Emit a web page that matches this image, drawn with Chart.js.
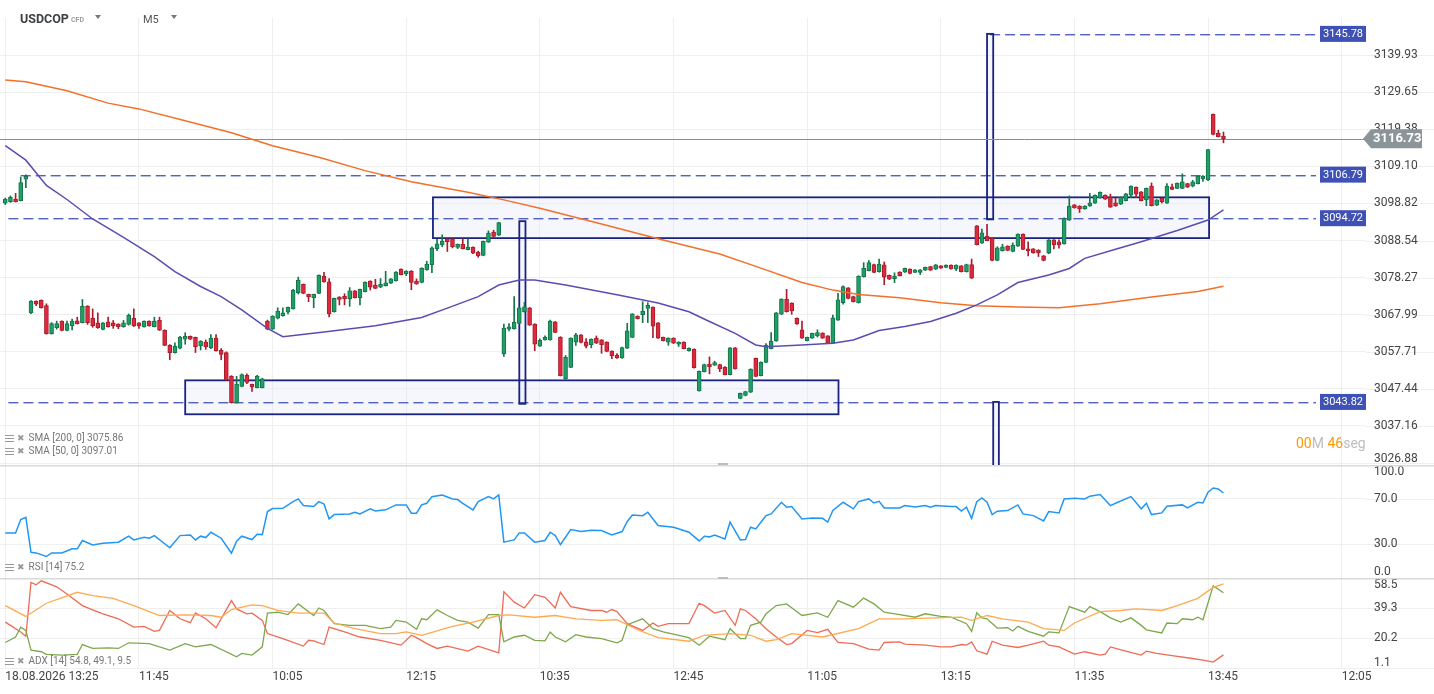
<!DOCTYPE html>
<html>
<head>
<meta charset="utf-8">
<title>USDCOP M5</title>
<script src="https://cdn.jsdelivr.net/npm/chart.js@4.4.1/dist/chart.umd.min.js"></script>
<style>
    body { margin: 0; background: #fff; font-family: Roboto, "Noto Sans", sans-serif; }
    .wrap { position: relative; width: 1434px; height: 694px; overflow: hidden; }
    canvas { position: absolute; left: 0; }
    .txt { position: absolute; white-space: nowrap; z-index: 2; }
    .tri { position: absolute; width: 0; height: 0; border-left: 3.5px solid transparent;
           border-right: 3.5px solid transparent; border-top: 4px solid #777; z-index: 2; }
    .leg { position: absolute; left: 5px; font-size: 10px; color: #777; z-index: 2; white-space: nowrap; }
    .leg .ico { display: inline-block; width: 9px; height: 7px; margin-right: 3px; vertical-align: -1px;
                background: repeating-linear-gradient(#9a9a9a 0 1.5px, #fff 1.5px 3px); }
    .leg .x { color: #9a9a9a; font-family: "DejaVu Sans", sans-serif; font-size: 9px; margin-right: 4px; }
    .handle { position: absolute; left: 718px; width: 10px; height: 2px; background: #bdbdbd; z-index: 2; }
</style>
</head>
<body>
<div class="wrap">
    <canvas id="priceChart" width="1434" height="465" style="top:0"></canvas>
    <canvas id="rsiChart" width="1434" height="113" style="top:465px"></canvas>
    <canvas id="adxChart" width="1434" height="116" style="top:578px"></canvas>

    <div class="txt" style="left:20px;top:11px;font-size:12.5px;font-weight:bold;color:#3c4043">USDCOP</div>
    <div class="txt" style="left:71px;top:16px;font-size:7px;font-weight:bold;color:#9e9e9e">CFD</div>
    <div class="tri" style="left:95px;top:15px"></div>
    <div class="txt" style="left:143px;top:13px;font-size:11px;color:#555">M5</div>
    <div class="tri" style="left:171px;top:15px"></div>

    <div class="txt" style="left:1296px;top:435px;font-size:14px">
        <span style="color:#ff9800">00</span><span style="color:#bdbdbd">M</span>
        <span style="color:#ff9800">46</span><span style="color:#bdbdbd">seg</span>
    </div>

    <div class="leg" style="top:432px"><span class="ico"></span><span class="x">✖</span>SMA [200, 0] 3075.86</div>
    <div class="leg" style="top:445px"><span class="ico"></span><span class="x">✖</span>SMA [50, 0] 3097.01</div>
    <div class="leg" style="top:561px"><span class="ico"></span><span class="x">✖</span>RSI [14] 75.2</div>
    <div class="leg" style="top:655px"><span class="ico"></span><span class="x">✖</span>ADX [14] 54.8, 49.1, 9.5</div>

    <div class="handle" style="top:463px"></div>
    <div class="handle" style="top:577px"></div>
</div>

<script>
// ---- time axis ----
const timeLabels = ['18.08.2026 13:25', '11:45', '10:05', '12:15', '10:35', '12:45',
                    '11:05', '13:15', '11:35', '13:45', '12:05'];
const tickIdx = [0, 26, 52, 78, 104, 130, 156, 182, 208, 234, 260];

// ---- candles (5 min) ----
const opens = [
 3098.9,3099.3,3100.0,3099.6,3105.5,3068.5,3071.7,3072.0,3070.5,3062.7,
 3064.4,3066.2,3063.6,3064.9,3066.3,3065.8,3070.4,3067.0,3065.7,3063.9,
 3066.0,3065.7,3065.4,3064.7,3065.3,3067.0,3065.7,3064.6,3066.2,3064.7,
 3066.4,3063.7,3059.5,3057.5,3058.7,3061.2,3062.0,3061.7,3059.4,3060.4,
 3058.8,3061.5,3058.1,3057.5,3051.0,3043.6,3048.1,3051.2,3048.7,3047.8,
 3047.8,3066.2,3064.0,3067.0,3067.7,3068.7,3069.6,3074.1,3076.4,3073.6,
 3072.7,3073.9,3078.7,3077.1,3068.8,3072.9,3073.1,3072.4,3074.6,3072.7,
 3074.4,3077.3,3076.2,3075.6,3076.0,3076.7,3077.4,3080.6,3079.3,3080.1,
 3077.3,3076.9,3080.4,3081.8,3086.3,3087.3,3089.0,3089.0,3086.6,3087.5,
 3086.0,3086.7,3085.3,3084.4,3088.1,3090.9,3090.0,3057.1,3064.0,3064.1,
 3065.6,3068.8,3069.9,3065.4,3059.3,3061.0,3061.0,3066.0,3061.8,3050.2,
 3053.4,3060.4,3062.4,3060.5,3059.7,3061.5,3061.0,3060.4,3057.9,3056.7,
 3056.0,3058.7,3061.7,3067.6,3068.0,3069.7,3070.1,3065.7,3061.7,3060.4,
 3061.5,3059.8,3060.4,3058.0,3058.4,3046.9,3052.2,3054.3,3054.0,3054.2,
 3053.5,3051.4,3058.8,3044.8,3045.6,3046.5,3055.9,3051.1,3054.8,3058.6,
 3060.7,3068.1,3072.3,3071.2,3067.0,3063.8,3060.8,3061.5,3062.1,3062.9,
 3062.1,3060.1,3066.5,3071.3,3075.4,3073.0,3071.3,3078.5,3080.2,3081.9,
 3079.9,3081.8,3078.9,3078.0,3079.8,3079.8,3080.6,3079.7,3079.7,3080.3,
 3081.3,3080.6,3081.5,3081.1,3081.7,3080.6,3081.5,3079.9,3081.9,3092.6,
 3087.8,3089.7,3089.2,3083.0,3085.7,3087.0,3085.5,3087.0,3090.3,3086.2,
 3086.2,3085.9,3084.3,3085.0,3088.7,3088.2,3087.6,3094.2,3098.4,3098.1,
 3097.3,3098.1,3098.9,3100.4,3101.1,3100.6,3099.0,3098.6,3099.6,3101.1,
 3103.3,3102.0,3099.8,3103.6,3098.3,3100.3,3098.9,3103.4,3103.0,3103.0,
 3104.3,3103.6,3104.3,3105.7,3105.4,3123.5,3118.3,3117.5
];
const highs = [
 3100.3,3100.9,3101.6,3106.1,3106.7,3071.9,3071.8,3072.1,3071.0,3065.8,
 3066.2,3066.3,3066.2,3066.8,3067.3,3072.2,3070.5,3069.6,3068.5,3065.8,
 3067.3,3066.4,3065.5,3066.4,3068.2,3069.6,3065.8,3066.3,3066.3,3067.3,
 3067.3,3063.8,3059.7,3060.2,3062.0,3063.0,3062.1,3061.8,3060.8,3061.0,
 3062.5,3062.5,3058.6,3057.7,3051.1,3050.9,3051.6,3051.6,3048.8,3051.2,
 3050.4,3066.5,3067.7,3069.9,3069.9,3070.1,3075.0,3078.4,3076.5,3073.7,
 3073.7,3079.0,3079.7,3078.0,3072.6,3073.0,3073.8,3075.5,3074.7,3075.1,
 3077.1,3077.4,3077.8,3078.0,3080.0,3078.0,3079.9,3080.7,3080.2,3080.2,
 3077.9,3081.0,3082.8,3086.8,3088.9,3090.1,3089.1,3089.1,3087.6,3089.0,
 3089.0,3086.8,3085.6,3088.4,3091.2,3091.4,3093.6,3065.4,3065.5,3073.0,
 3070.1,3071.4,3070.0,3065.5,3061.3,3062.1,3066.5,3066.1,3061.9,3056.7,
 3061.6,3062.8,3062.5,3061.4,3061.3,3062.1,3061.1,3060.5,3058.0,3057.2,
 3059.0,3065.6,3068.3,3067.7,3071.6,3071.3,3070.2,3065.8,3061.8,3061.6,
 3061.6,3060.5,3060.5,3058.8,3058.5,3052.4,3054.3,3056.3,3055.1,3054.3,
 3053.6,3058.9,3058.9,3046.3,3046.8,3053.0,3056.0,3054.9,3060.0,3063.0,
 3068.6,3072.4,3075.0,3071.3,3067.1,3066.2,3061.8,3062.9,3063.8,3063.0,
 3062.2,3067.9,3073.9,3076.0,3075.5,3073.1,3078.8,3082.4,3083.0,3082.0,
 3083.4,3082.6,3079.0,3079.6,3079.9,3080.9,3080.7,3080.5,3080.5,3081.2,
 3081.4,3081.9,3081.6,3081.8,3081.8,3081.8,3081.6,3082.0,3083.4,3092.7,
 3091.7,3093.0,3089.3,3086.8,3087.5,3087.1,3087.9,3090.4,3090.4,3088.2,
 3086.3,3086.0,3084.4,3088.8,3088.8,3088.7,3094.8,3100.9,3098.5,3098.2,
 3098.2,3101.6,3101.2,3102.0,3101.2,3101.4,3100.2,3100.6,3101.6,3103.7,
 3103.4,3102.1,3103.1,3104.5,3099.9,3100.4,3104.3,3104.2,3104.5,3107.0,
 3104.4,3105.2,3106.5,3106.5,3113.8,3123.6,3119.1,3118.6
];
const lows = [
 3098.5,3099.1,3099.2,3099.5,3103.2,3068.3,3070.5,3069.8,3062.6,3062.6,
 3064.0,3063.5,3063.5,3063.8,3065.4,3065.7,3065.3,3064.5,3064.2,3063.8,
 3064.5,3064.2,3064.1,3064.5,3065.1,3064.7,3064.2,3064.5,3064.8,3064.6,
 3063.6,3059.4,3055.5,3057.3,3058.5,3059.8,3061.1,3057.5,3058.2,3058.4,
 3058.6,3057.9,3055.5,3049.8,3043.5,3043.5,3048.0,3048.9,3046.7,3047.7,
 3047.7,3063.8,3063.9,3066.8,3067.6,3068.2,3069.5,3073.7,3073.8,3071.6,
 3069.9,3073.8,3077.0,3067.4,3068.7,3070.7,3070.7,3070.3,3072.6,3070.7,
 3074.3,3074.8,3075.2,3075.5,3075.9,3076.6,3077.3,3079.0,3078.8,3074.9,
 3076.4,3076.8,3080.3,3079.6,3085.7,3086.8,3085.5,3086.5,3086.3,3086.2,
 3085.9,3084.9,3083.9,3084.3,3088.0,3089.4,3089.9,3056.4,3063.5,3064.0,
 3065.5,3068.7,3065.0,3058.0,3059.2,3060.9,3060.9,3063.0,3051.0,3050.1,
 3053.3,3059.5,3060.2,3058.8,3058.8,3060.0,3057.3,3057.7,3055.8,3055.9,
 3055.9,3058.6,3061.6,3066.8,3065.8,3065.8,3061.6,3061.4,3060.7,3059.5,
 3060.0,3059.2,3058.5,3057.9,3053.2,3046.8,3052.1,3051.6,3053.9,3052.2,
 3051.3,3051.3,3052.9,3044.7,3045.5,3046.4,3050.8,3051.0,3054.7,3058.5,
 3060.6,3068.0,3068.7,3068.1,3065.3,3061.4,3060.7,3061.4,3061.8,3061.4,
 3060.0,3060.0,3066.4,3070.9,3072.4,3071.5,3071.2,3078.4,3080.1,3079.6,
 3079.8,3076.3,3077.7,3076.9,3078.7,3079.7,3079.3,3079.6,3079.1,3080.2,
 3080.2,3080.5,3080.8,3081.0,3080.6,3080.2,3079.8,3079.8,3078.0,3087.3,
 3087.7,3088.4,3082.9,3082.9,3085.6,3085.7,3085.4,3086.9,3086.0,3084.3,
 3085.0,3084.1,3082.9,3084.9,3086.2,3086.4,3087.5,3094.1,3097.5,3096.3,
 3097.2,3098.0,3098.8,3100.3,3099.9,3097.7,3098.0,3098.5,3099.5,3100.4,
 3100.4,3099.5,3098.2,3098.1,3098.2,3098.9,3098.8,3102.6,3102.9,3102.9,
 3103.2,3103.4,3104.2,3104.9,3105.1,3117.8,3117.2,3115.6
];
const closes = [
 3100.0,3100.5,3099.3,3104.6,3106.4,3071.7,3070.9,3069.9,3062.7,3065.5,
 3065.5,3063.6,3065.5,3066.2,3065.5,3070.4,3065.8,3064.9,3064.4,3065.7,
 3064.7,3064.9,3064.7,3065.7,3067.9,3064.9,3064.9,3066.2,3064.9,3066.2,
 3063.7,3059.5,3057.5,3059.2,3061.8,3062.0,3061.2,3059.1,3060.7,3059.1,
 3061.5,3058.0,3057.0,3049.9,3043.6,3048.8,3051.4,3049.2,3048.0,3051.0,
 3050.2,3064.0,3067.6,3069.0,3068.5,3070.0,3074.8,3077.6,3073.9,3072.9,
 3073.6,3078.9,3077.1,3068.2,3072.5,3072.2,3072.4,3074.6,3072.7,3075.0,
 3077.0,3075.6,3075.3,3076.4,3076.8,3077.9,3079.8,3079.1,3080.1,3076.9,
 3076.5,3080.9,3082.0,3086.5,3087.6,3088.4,3088.2,3086.8,3087.5,3086.3,
 3086.7,3085.0,3084.3,3088.3,3090.6,3089.7,3093.5,3064.3,3064.6,3065.9,
 3069.9,3070.2,3065.1,3059.8,3060.9,3061.7,3066.2,3063.1,3051.1,3056.2,
 3061.5,3062.4,3060.3,3059.3,3061.2,3060.1,3059.7,3057.8,3056.6,3056.0,
 3058.9,3063.5,3068.2,3066.9,3069.0,3070.6,3064.8,3061.5,3060.8,3061.5,
 3060.1,3060.4,3058.6,3058.7,3053.3,3052.3,3054.2,3053.6,3054.7,3053.0,
 3051.4,3058.8,3053.0,3046.2,3046.7,3052.9,3050.9,3054.8,3059.6,3060.7,
 3068.5,3072.3,3068.8,3069.1,3065.4,3061.5,3061.7,3062.8,3063.0,3061.5,
 3060.1,3067.1,3072.1,3075.8,3072.5,3071.6,3078.7,3080.8,3082.4,3079.7,
 3082.0,3078.4,3077.8,3078.7,3078.8,3080.8,3079.4,3080.4,3080.4,3081.1,
 3080.3,3081.8,3080.9,3081.7,3080.7,3081.7,3079.9,3081.9,3078.1,3087.4,
 3090.7,3088.5,3083.0,3086.5,3086.8,3085.8,3087.3,3090.3,3086.1,3085.7,
 3085.1,3085.2,3083.0,3088.7,3087.3,3087.3,3094.6,3098.1,3097.6,3097.3,
 3098.1,3099.0,3101.1,3101.9,3100.0,3097.8,3098.1,3100.5,3101.5,3103.6,
 3101.4,3099.6,3103.0,3098.2,3099.8,3099.3,3103.6,3102.7,3104.4,3104.8,
 3103.3,3104.8,3106.4,3106.4,3113.7,3117.9,3117.3,3116.73
];

// ---- moving averages (bar index / value) ----
const sma50Idx = [0,4,8,12,17,23,29,33,38,42,46,51,54,62,72,81,86,92,96,100,103,109,119,127,133,137,
                  142,146,148,155,161,165,170,175,180,185,189,193,197,203,207,210,216,221,228,234,237];
const sma50Val = [3114.8,3110.8,3103.8,3099.9,3094.5,3089.4,3084.1,3079.9,3075.8,3073.0,3069.3,3064.2,
                  3061.9,3063.2,3064.9,3067.2,3069.8,3073.0,3076.2,3077.6,3077.6,3076.2,3073.5,3071.2,
                  3068.8,3066.1,3062.8,3059.6,3059.1,3059.6,3060.1,3061.0,3063.6,3064.7,3066.1,3068.4,
                  3070.7,3073.5,3076.9,3079.0,3080.8,3083.6,3086.1,3088.2,3091.3,3094.2,3097.01];
const sma200Idx = [0,4,12,20,26,35,44,52,61,70,79,90,97,104,116,127,139,147,155,161,166,174,182,189,
                   197,205,213,223,232,237];
const sma200Val = [3133.0,3132.5,3130.0,3126.6,3125.0,3121.7,3118.4,3114.8,3111.6,3107.9,3104.8,3101.9,
                   3099.8,3097.5,3093.1,3089.0,3084.8,3080.9,3076.9,3074.8,3073.6,3072.7,3071.3,3070.5,
                   3070.1,3069.9,3071.0,3072.9,3074.4,3075.86];

// ---- RSI 14 ----
const rsiIdx = [0,2,3,4,5,6,8,9,11,13,14,15,17,19,22,24,25,27,28,29,32,34,36,37,38,39,40,42,44,45,46,48,
  49,50,51,52,54,56,57,58,60,61,62,63,64,67,68,69,71,72,74,76,78,79,80,81,82,83,85,87,88,89,91,92,94,95,
  96,97,99,100,101,103,105,106,107,108,110,112,114,116,118,120,121,122,124,125,127,130,132,133,135,136,
  137,138,140,141,143,144,145,146,147,148,149,151,152,153,155,157,159,160,161,163,165,166,168,169,170,
  171,174,175,177,179,180,181,184,185,186,187,188,189,190,191,192,193,195,197,198,200,202,203,205,206,
  208,210,211,213,215,216,219,221,222,223,225,226,229,230,232,233,234,235,236,237];
const rsiVal = [39.9,39.9,51.7,53.7,22.8,22.2,19.0,22.2,22.2,25.8,25.8,33.2,29.3,30.8,31.7,37.0,33.7,36.0,
  35.2,37.5,26.7,37.5,38.1,33.7,37.0,35.8,40.5,35.2,22.0,32.6,37.0,34.0,38.8,38.4,58.8,61.4,61.7,67.6,
  70.0,64.1,63.2,67.6,65.5,52.3,56.1,56.7,58.2,56.7,61.2,59.3,60.3,64.7,64.7,57.3,57.3,64.7,66.1,72.0,
  73.5,70.0,69.4,66.1,60.3,67.6,72.0,70.0,73.5,31.7,33.7,39.9,39.9,31.7,33.2,40.5,37.5,29.6,42.9,41.1,
  42.3,42.0,38.1,41.1,50.0,55.8,55.2,58.2,46.4,44.9,42.0,40.5,32.8,37.0,36.4,38.1,34.6,49.4,33.7,34.0,
  44.9,43.5,49.4,55.2,56.7,67.0,62.6,63.2,52.3,53.2,52.8,49.4,59.7,67.0,61.2,67.6,70.0,66.4,67.9,62.0,
  62.0,64.1,62.9,64.1,62.6,64.1,63.2,63.2,59.3,62.6,52.8,67.6,70.9,67.0,56.1,59.1,59.7,64.7,56.7,55.2,
  50.5,58.8,57.6,70.0,70.5,70.0,72.4,73.8,64.1,66.1,72.0,61.2,66.1,56.1,57.6,63.5,64.7,62.0,67.0,66.4,
  75.9,79.7,78.8,75.2];

// ---- ADX 14 ----
const adxIdx = [0,4,8,14,17,21,25,30,35,40,42,44,48,50,53,57,62,64,68,73,76,78,81,87,91,96,98,103,107,
  111,116,119,123,127,133,136,141,145,148,150,153,159,166,170,175,181,186,188,191,194,199,202,206,208,
  213,217,220,225,228,232,235,237];
const adxVal = [40.9,34.0,42.4,49.4,47.2,45.5,40.9,34.6,35.0,34.6,33.5,38.4,41.4,40.9,37.8,36.1,36.1,29.8,
  26.2,23.1,23.1,24.1,22.0,27.7,30.4,34.6,35.0,33.5,34.6,32.5,31.5,31.9,25.5,20.5,18.2,22.0,23.1,22.0,
  18.2,19.2,23.1,20.9,26.2,32.5,32.5,33.1,33.5,31.5,34.6,32.5,30.4,26.2,25.1,29.8,37.1,37.8,38.8,37.8,
  40.9,45.5,52.5,54.8];
const pdiIdx = [0,2,3,4,5,7,8,11,14,15,17,20,22,24,28,32,35,37,40,45,46,48,50,51,53,55,57,60,61,62,64,67,
  70,73,75,76,78,80,81,82,84,86,88,90,92,94,96,97,99,101,103,105,106,107,109,111,113,116,119,120,121,
  124,126,128,133,135,137,140,141,143,144,145,147,148,150,152,155,158,160,162,165,167,169,171,174,177,
  179,182,184,187,188,189,190,191,193,195,196,197,199,202,203,205,207,210,211,213,215,217,219,221,222,
  225,226,228,229,231,232,233,235,237];
const pdiVal = [17.4,20.9,27.2,25.1,12.5,11.5,9.8,9.4,9.8,16.1,13.6,14.0,13.6,17.2,16.7,12.5,16.7,14.6,
  16.1,8.3,10.4,9.4,14.6,36.1,36.7,35.2,42.0,34.6,39.4,37.8,29.4,28.3,28.3,26.2,27.2,31.5,30.4,25.8,
  32.5,31.9,38.2,34.6,31.5,30.4,26.6,35.2,35.2,17.8,20.9,22.0,18.8,18.4,24.1,20.9,17.8,22.4,20.9,19.9,
  17.2,18.8,28.7,32.5,26.2,24.1,20.5,15.7,21.4,19.2,26.2,19.9,19.9,28.3,30.4,35.7,40.9,42.0,34.6,36.3,
  33.5,44.1,39.9,45.7,42.0,36.7,35.2,33.5,35.7,34.0,33.5,29.4,24.5,36.3,33.1,32.5,26.6,26.8,24.7,27.7,
  24.5,21.4,24.1,23.5,40.3,36.7,40.3,37.1,33.1,30.4,33.1,28.3,25.5,23.5,29.8,29.4,32.5,31.9,33.5,31.9,
  53.5,49.1];
const mdiIdx = [0,1,3,4,5,6,7,10,12,15,17,19,22,25,27,29,30,32,34,36,37,39,41,44,45,47,48,50,51,54,58,59,
  60,62,63,66,69,73,77,79,80,82,84,86,90,92,96,97,99,101,103,105,107,108,110,114,116,117,118,119,121,
  124,126,127,129,133,135,136,138,140,142,143,144,146,148,150,152,153,156,158,160,162,165,168,170,171,
  174,175,179,182,184,186,187,188,189,191,192,194,197,199,202,203,205,208,210,213,214,215,218,221,222,
  224,227,231,233,235,237];
const mdiVal = [30.4,28.3,24.1,21.4,55.7,54.2,56.7,52.9,48.3,40.9,38.2,35.7,32.5,27.2,27.7,24.5,25.1,37.8,
  32.5,30.0,36.3,32.5,26.8,44.1,38.8,35.7,36.1,31.5,23.1,19.9,15.1,18.8,18.4,16.1,27.2,24.1,20.9,18.8,
  15.7,22.0,20.5,16.7,13.6,15.1,11.9,15.1,10.8,49.7,43.1,39.4,47.9,46.2,39.4,49.4,40.3,37.8,37.8,36.7,
  38.4,37.1,29.4,25.1,29.8,27.7,29.4,29.4,42.4,40.9,36.1,37.8,28.3,38.8,37.8,32.5,26.2,20.9,16.1,16.7,
  25.1,23.7,25.8,17.4,16.7,13.2,12.5,17.4,17.8,16.3,15.7,14.6,14.6,16.1,15.7,17.8,12.1,10.0,18.2,15.7,
  14.2,15.7,18.2,15.7,14.6,10.0,11.5,9.4,10.0,14.6,11.9,9.4,11.9,10.4,9.0,7.2,6.2,4.9,9.5];

// ---- drawings on the price pane ----
const zoneX0 = [35.0, 83.2, 100.0, 191.0, 192.2];
const zoneX1 = [162.1, 234.2, 101.2, 192.2, 193.3];
const zoneTop = [3049.8, 3100.5, 3093.9, 3145.78, 3043.82];
const zoneBottom = [3040.4, 3089.2, 3043.3, 3094.4, 3000.0];
const levelPrices = [3145.78, 3106.79, 3094.72, 3043.82];
const levelFrom = [191.6, 3, 0.6, 0.6];
const levelTo = 255;
const lastPrice = 3116.73;

const priceTicks = [3026.88, 3037.16, 3047.44, 3057.71, 3067.99, 3078.27, 3088.54, 3098.82,
                    3109.10, 3119.38, 3129.65, 3139.93];
const rsiTicks = [0, 30, 70, 100];
const adxTicks = [1.1, 20.2, 39.3, 58.5];

// ---- styling ----
const GREEN = '#1f9f68', GREEN_EDGE = '#137549', RED = '#e0283d', RED_EDGE = '#a91c2c';
const GRID = '#efefef';
const X_MIN = -5.3 / 5.14, X_MAX = (1366 - 5.3) / 5.14;

const pts = (xs, ys) => xs.map((x, k) => ({ x, y: ys[k] }));
const up = i => closes[i] >= opens[i];

function xScale(showLabels) {
    return {
        type: 'linear', min: X_MIN, max: X_MAX, offset: false,
        afterBuildTicks: ax => { ax.ticks = tickIdx.map(v => ({ value: v })); },
        grid: { color: GRID, drawTicks: false, offset: false },
        border: { display: false },
        ticks: {
            display: showLabels, autoSkip: false, maxRotation: 0, minRotation: 0, align: 'start', padding: 1,
            color: '#444', font: { family: 'Roboto', size: 12 },
            callback: v => timeLabels[tickIdx.indexOf(v)]
        }
    };
}

function yScale(min, max, ticks) {
    return {
        position: 'right', min, max, beginAtZero: false,
        afterBuildTicks: ax => { ax.ticks = ticks.map(v => ({ value: v })); },
        afterFit: ax => { ax.width = 68; },
        grid: { color: GRID, drawTicks: false },
        border: { display: false },
        ticks: { display: false }
    };
}

// right side labels, kept inside their pane; grid carried across the label strip
const sideLabels = {
    id: 'sideLabels',
    beforeDatasetsDraw(chart, args, opts) {
        const { ctx, chartArea: a, scales: { y } } = chart;
        ctx.save();
        ctx.strokeStyle = GRID; ctx.lineWidth = 1;
        opts.values.forEach(v => {
            const py = Math.round(y.getPixelForValue(v)) + 0.5;
            ctx.beginPath(); ctx.moveTo(a.right, py); ctx.lineTo(chart.width, py); ctx.stroke();
        });
        ctx.restore();
    },
    afterDraw(chart, args, opts) {
        const { ctx, chartArea: a, scales: { y } } = chart;
        ctx.save();
        ctx.font = '12px Roboto'; ctx.fillStyle = '#444';
        ctx.textAlign = 'left'; ctx.textBaseline = 'middle';
        opts.values.forEach(v => {
            let py = y.getPixelForValue(v);
            py = Math.min(Math.max(py, a.top + 7), a.bottom - 6);
            ctx.fillText(v.toFixed(opts.decimals), a.right + 8, py);
        });
        if (opts.topLine) {
            ctx.fillStyle = '#d9d9d9';
            ctx.fillRect(0, 0, chart.width, 1.5);
        }
        ctx.restore();
    }
};

const priceMarks = {
    id: 'priceMarks',
    beforeDatasetsDraw(chart) {
        const { ctx, chartArea: a, scales: { x, y } } = chart;
        ctx.save();
        ctx.beginPath(); ctx.rect(a.left, a.top, a.right - a.left, a.bottom - a.top); ctx.clip();
        zoneX0.forEach((x0, k) => {
            const l = x.getPixelForValue(x0), r = x.getPixelForValue(zoneX1[k]);
            const t = y.getPixelForValue(zoneTop[k]), b = y.getPixelForValue(zoneBottom[k]);
            ctx.fillStyle = 'rgba(225,230,250,0.3)';
            ctx.fillRect(l, t, r - l, b - t);
        });
        // dashed levels: dark core with a soft lower edge
        ctx.setLineDash([10, 5]);
        levelPrices.forEach((p, k) => {
            const py = Math.round(y.getPixelForValue(p)) + 0.5;
            const x0 = x.getPixelForValue(levelFrom[k]), x1 = x.getPixelForValue(levelTo);
            ctx.strokeStyle = 'rgba(121,134,203,0.55)'; ctx.lineWidth = 1;
            ctx.beginPath(); ctx.moveTo(x0, py + 1); ctx.lineTo(x1, py + 1); ctx.stroke();
            ctx.strokeStyle = '#5362bc'; ctx.lineWidth = 1.1;
            ctx.beginPath(); ctx.moveTo(x0, py); ctx.lineTo(x1, py); ctx.stroke();
        });
        ctx.setLineDash([]);
        zoneX0.forEach((x0, k) => {
            const l = x.getPixelForValue(x0), r = x.getPixelForValue(zoneX1[k]);
            const t = y.getPixelForValue(zoneTop[k]), b = y.getPixelForValue(zoneBottom[k]);
            ctx.strokeStyle = '#1a237e'; ctx.lineWidth = 1.8;
            ctx.strokeRect(l, t, r - l, b - t);
        });
        const lp = Math.round(y.getPixelForValue(lastPrice)) + 0.5;
        ctx.strokeStyle = '#8d8d8d'; ctx.lineWidth = 1;
        ctx.beginPath(); ctx.moveTo(a.left, lp); ctx.lineTo(a.right, lp); ctx.stroke();
        ctx.restore();
    },
    afterDraw(chart) {
        const { ctx, chartArea: a, scales: { y } } = chart;
        ctx.save();
        ctx.beginPath(); ctx.rect(0, 0, a.right, chart.height); ctx.clip();
        ctx.font = '11px Roboto'; ctx.textBaseline = 'middle'; ctx.textAlign = 'left';
        levelPrices.forEach(p => {
            const py = y.getPixelForValue(p);
            ctx.fillStyle = '#3f51b5';
            ctx.fillRect(a.right - 46, py - 8, 46, 16);
            ctx.fillStyle = '#fff';
            ctx.fillText(p.toFixed(2), a.right - 43, py + 0.5);
        });
        ctx.restore();

        const py = y.getPixelForValue(lastPrice);
        ctx.save();
        ctx.fillStyle = '#8b9599';
        ctx.beginPath();
        ctx.moveTo(a.right - 3, py);
        ctx.lineTo(a.right + 5, py - 9.5);
        ctx.lineTo(a.right + 56, py - 9.5);
        ctx.lineTo(a.right + 56, py + 9.5);
        ctx.lineTo(a.right + 5, py + 9.5);
        ctx.closePath(); ctx.fill();
        ctx.fillStyle = '#fff'; ctx.font = 'bold 13px Roboto';
        ctx.textAlign = 'left'; ctx.textBaseline = 'middle';
        ctx.fillText(lastPrice.toFixed(2), a.right + 7, py + 0.5);
        ctx.restore();
    }
};

const common = {
    responsive: false, animation: false, events: [],
    plugins: { legend: { display: false }, tooltip: { enabled: false } }
};

const idx = opens.map((_, i) => i);

new Chart(document.getElementById('priceChart'), {
    type: 'bar',
    data: {
        datasets: [
            { type: 'line', data: pts(sma50Idx, sma50Val), borderColor: '#5b4cb2', borderWidth: 1.5,
              pointRadius: 0, tension: 0 },
            { type: 'line', data: pts(sma200Idx, sma200Val), borderColor: '#f4702a', borderWidth: 1.5,
              pointRadius: 0, tension: 0 },
            { data: idx.map(i => ({ x: i, y: [Math.min(opens[i], closes[i]), Math.max(opens[i], closes[i])] })),
              backgroundColor: c => up(c.dataIndex) ? GREEN : RED,
              borderColor: c => up(c.dataIndex) ? GREEN_EDGE : RED_EDGE,
              borderWidth: 1, borderSkipped: false, barThickness: 4, grouped: false },
            { data: idx.map(i => ({ x: i, y: [lows[i], highs[i]] })),
              backgroundColor: c => up(c.dataIndex) ? GREEN_EDGE : RED_EDGE,
              borderWidth: 0, barThickness: 1, grouped: false }
        ]
    },
    options: {
        ...common,
        layout: { padding: { top: 18 } },
        scales: { x: xScale(false), y: yScale(3026.35, 3150.18, priceTicks) },
        plugins: { ...common.plugins, sideLabels: { values: priceTicks, decimals: 2 } }
    },
    plugins: [sideLabels, priceMarks]
});

new Chart(document.getElementById('rsiChart'), {
    type: 'line',
    data: {
        datasets: [
            { data: pts(rsiIdx, rsiVal), borderColor: '#2196f3', borderWidth: 1.5, pointRadius: 0, tension: 0 }
        ]
    },
    options: {
        ...common,
        scales: { x: xScale(false), y: yScale(0, 100, rsiTicks) },
        plugins: { ...common.plugins, sideLabels: { values: rsiTicks, decimals: 1, topLine: true } }
    },
    plugins: [sideLabels]
});

new Chart(document.getElementById('adxChart'), {
    type: 'line',
    data: {
        datasets: [
            { data: pts(adxIdx, adxVal), borderColor: '#ffa950', borderWidth: 1.3, pointRadius: 0, tension: 0 },
            { data: pts(pdiIdx, pdiVal), borderColor: '#7ea84c', borderWidth: 1.3, pointRadius: 0, tension: 0 },
            { data: pts(mdiIdx, mdiVal), borderColor: '#ee6b56', borderWidth: 1.3, pointRadius: 0, tension: 0 }
        ]
    },
    options: {
        ...common,
        layout: { padding: { bottom: 8.6 } },
        scales: { x: xScale(true), y: yScale(0.5, 58.5, adxTicks) },
        plugins: { ...common.plugins, sideLabels: { values: adxTicks, decimals: 1, topLine: true } }
    },
    plugins: [sideLabels]
});
</script>
</body>
</html>
